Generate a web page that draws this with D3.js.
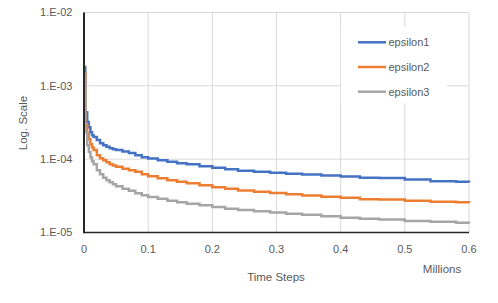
<!DOCTYPE html>
<html>
<head>
<meta charset="utf-8">
<script src="https://cdn.jsdelivr.net/npm/d3@7"></script>
<style>
  body { margin: 0; background: #fff; }
  text { font-family: "Liberation Sans", Arial, sans-serif; fill: #595959; }
</style>
</head>
<body>
<svg id="chart"></svg>
<script>
var width = 498;
var height = 303;

// time steps (millions)
var timeSteps = [0, 0.002, 0.005, 0.0075, 0.01, 0.0125, 0.015, 0.02, 0.025, 0.03, 0.035, 0.04, 0.045,
  0.05, 0.06, 0.07, 0.08, 0.09, 0.1,
  0.115, 0.13, 0.145, 0.16, 0.18, 0.2, 0.22, 0.24, 0.265, 0.29, 0.315, 0.34, 0.37, 0.4,
  0.43, 0.46, 0.5, 0.54, 0.58, 0.6];

var epsilon1 = [1.8e-3, 4.37e-4, 3.2e-4, 2.73e-4, 2.33e-4, 2.12e-4, 2.0e-4, 1.82e-4, 1.65e-4, 1.55e-4,
  1.48e-4, 1.41e-4, 1.37e-4,
  1.33e-4, 1.27e-4, 1.21e-4, 1.13e-4, 1.06e-4, 1.02e-4,
  9.7e-5, 9.2e-5, 8.8e-5, 8.5e-5, 8.0e-5, 7.66e-5, 7.3e-5, 6.97e-5, 6.71e-5, 6.55e-5,
  6.34e-5, 6.18e-5, 6.0e-5, 5.81e-5, 5.59e-5, 5.55e-5, 5.28e-5, 5.01e-5, 4.93e-5, 4.81e-5];

var epsilon2 = [1.48e-3, 2.91e-4, 2.26e-4, 1.87e-4, 1.6e-4, 1.44e-4, 1.33e-4, 1.13e-4, 1.03e-4, 9.7e-5,
  9.1e-5, 8.55e-5, 8.2e-5,
  7.9e-5, 7.42e-5, 7.08e-5, 6.75e-5, 6.24e-5, 5.86e-5,
  5.5e-5, 5.17e-5, 4.93e-5, 4.71e-5, 4.42e-5, 4.15e-5, 3.96e-5, 3.74e-5, 3.6e-5, 3.47e-5,
  3.33e-5, 3.2e-5, 3.08e-5, 2.98e-5, 2.85e-5, 2.82e-5, 2.7e-5, 2.63e-5, 2.59e-5, 2.53e-5];

var epsilon3 = [1.2e-3, 2.33e-4, 1.55e-4, 1.25e-4, 1.06e-4, 9.4e-5, 8.55e-5, 7.08e-5, 6.24e-5, 5.59e-5,
  5.17e-5, 4.86e-5, 4.56e-5,
  4.28e-5, 3.96e-5, 3.72e-5, 3.44e-5, 3.23e-5, 3.06e-5,
  2.89e-5, 2.72e-5, 2.59e-5, 2.47e-5, 2.36e-5, 2.23e-5, 2.11e-5, 2.02e-5, 1.95e-5, 1.87e-5,
  1.8e-5, 1.74e-5, 1.67e-5, 1.59e-5, 1.54e-5, 1.5e-5, 1.44e-5, 1.4e-5, 1.36e-5, 1.33e-5];

var seriesNames = ['epsilon1', 'epsilon2', 'epsilon3'];
var seriesColors = ['#4472C4', '#ED7D31', '#A5A5A5'];
var xTicks = [0, 0.1, 0.2, 0.3, 0.4, 0.5, 0.6];
var yTicks = [1e-5, 1e-4, 1e-3, 1e-2];
var yTickLabels = ['1.E-05', '1.E-04', '1.E-03', '1.E-02'];

var margin = {left: 84, right: 29, top: 12.5, bottom: 70.5};

var x = d3.scaleLinear().domain([0, 0.6]).range([margin.left, width - margin.right]);
var y = d3.scaleLog().domain([1e-5, 1e-2]).range([height - margin.bottom, margin.top]);

var svg = d3.select('#chart')
  .attr('width', width)
  .attr('height', height);

// gridlines
svg.append('g').selectAll('line.hgrid').data(yTicks.slice(1)).enter().append('line')
  .attr('x1', x(0)).attr('x2', x(0.6))
  .attr('y1', function (d) { return y(d); })
  .attr('y2', function (d) { return y(d); })
  .attr('stroke', '#d9d9d9').attr('stroke-width', 1);

svg.append('g').selectAll('line.vgrid').data(xTicks.slice(1)).enter().append('line')
  .attr('x1', function (d) { return x(d); })
  .attr('x2', function (d) { return x(d); })
  .attr('y1', y(1e-2)).attr('y2', y(1e-5))
  .attr('stroke', '#d9d9d9').attr('stroke-width', 1);

// lines
var allSeries = [epsilon1, epsilon2, epsilon3];
var line = d3.line()
  .x(function (d, i) { return x(timeSteps[i]); })
  .y(function (d) { return y(d); })
  .curve(d3.curveStepAfter);

svg.append('g').selectAll('path.series').data(allSeries).enter().append('path')
  .attr('fill', 'none')
  .attr('stroke', function (d, i) { return seriesColors[i]; })
  .attr('stroke-width', 2.5)
  .attr('d', line);

// axes lines
svg.append('line')
  .attr('x1', x(0)).attr('x2', x(0.6))
  .attr('y1', y(1e-5)).attr('y2', y(1e-5))
  .attr('stroke', '#262626').attr('stroke-width', 1.5);
svg.append('line')
  .attr('x1', x(0)).attr('x2', x(0))
  .attr('y1', y(1e-2)).attr('y2', y(1e-5) + 0.75)
  .attr('stroke', '#262626').attr('stroke-width', 2);

// tick labels
svg.append('g').selectAll('text').data(yTicks).enter().append('text')
  .attr('x', 72.5)
  .attr('y', function (d) { return y(d); })
  .attr('dy', '0.35em')
  .attr('text-anchor', 'end')
  .style('font-size', '11px')
  .text(function (d, i) { return yTickLabels[i]; });

svg.append('g').selectAll('text').data(xTicks).enter().append('text')
  .attr('x', function (d) { return x(d); })
  .attr('y', 253)
  .attr('text-anchor', 'middle')
  .style('font-size', '11px')
  .text(function (d) { return d === 0 ? '0' : d3.format('.1f')(d); });

// titles
svg.append('text')
  .attr('transform', 'translate(27,123) rotate(-90)')
  .attr('text-anchor', 'middle')
  .style('font-size', '11.5px')
  .text('Log. Scale');

svg.append('text')
  .attr('x', 276).attr('y', 281)
  .attr('text-anchor', 'middle')
  .style('font-size', '11.5px')
  .text('Time Steps');

svg.append('text')
  .attr('x', 442).attr('y', 273)
  .attr('text-anchor', 'middle')
  .style('font-size', '11.5px')
  .text('Millions');

// legend
var legend = svg.append('g');
legend.append('rect')
  .attr('x', 341).attr('y', 27).attr('width', 106).attr('height', 76)
  .attr('fill', '#fff');

var items = legend.selectAll('g.item').data(seriesNames).enter().append('g')
  .attr('transform', function (d, i) { return 'translate(0,' + (42.3 + i * 24.7) + ')'; });
items.append('line')
  .attr('x1', 358).attr('x2', 386).attr('y1', 0).attr('y2', 0)
  .attr('stroke', function (d, i) { return seriesColors[i]; })
  .attr('stroke-width', 2.5);
items.append('text')
  .attr('x', 388.5).attr('dy', '0.35em')
  .style('font-size', '11px')
  .text(function (d) { return d; });
</script>
</body>
</html>
